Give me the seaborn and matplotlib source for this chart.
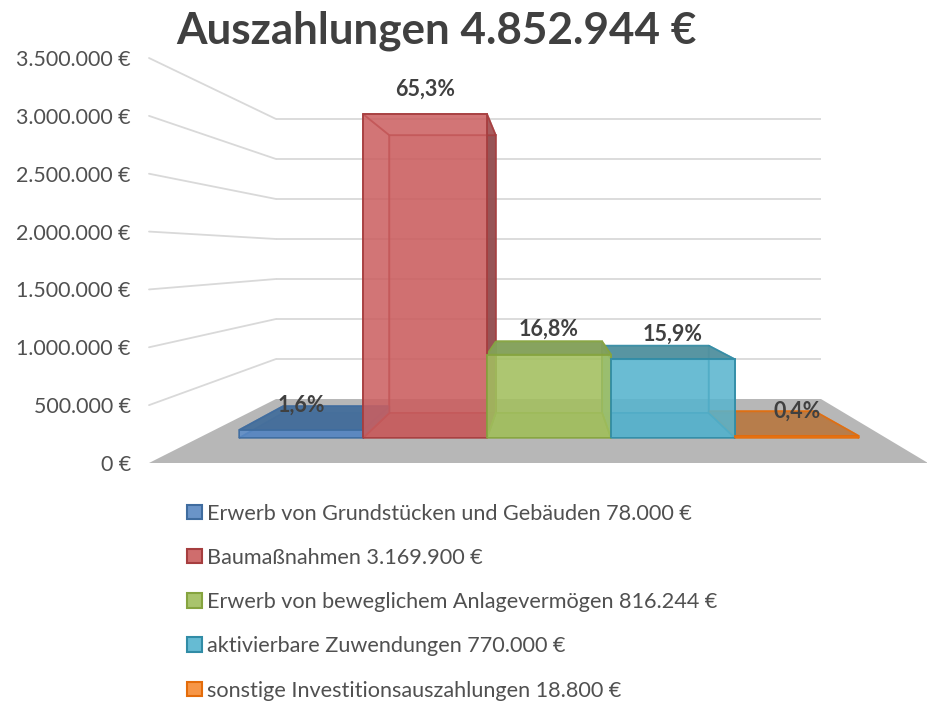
import matplotlib
matplotlib.use("Agg")
import matplotlib.pyplot as plt
import numpy as np
import pandas as pd
import seaborn as sns
from matplotlib.colors import to_rgba
from matplotlib.patches import Polygon
from matplotlib.ticker import FuncFormatter

# Daten
categories = ["Erwerb von Grundstücken und Gebäuden", "Baumaßnahmen",
              "Erwerb von beweglichem Anlagevermögen", "aktivierbare Zuwendungen",
              "sonstige Investitionsauszahlungen"]
values = [78000, 3169900, 816244, 770000, 18800]
shares = ["1,6%", "65,3%", "16,8%", "15,9%", "0,4%"]
axis_ticks = [0, 500000, 1000000, 1500000, 2000000, 2500000, 3000000, 3500000]
title = "Auszahlungen 4.852.944 €"

fills = ["#5b8bc8", "#cb5f60", "#a3c060", "#58b4ce", "#f79646"]
legend_fills = ["#6a94c8", "#cf6d6d", "#a9c46c", "#66bbd3", "#f79646"]
edges = ["#3f6c9f", "#a63e3f", "#86a43f", "#318ca6", "#e46c0a"]
tops = ["#466f9b", "#cb5f60", "#83a05a", "#53919f", "#b87d4a"]
bottoms = ["#466f9b", "#b05252", "#9ab45c", "#4fa5bd", "#b87d4a"]
sides = ["#46709c", "#8e4a4c", "#8fae5c", "#62b4cb", "#62b4cb"]
TEXT = "#404040"
GRID = "#d9d9d9"
FLOOR = "#b7b7b7"
W, H = 928, 704


def euro(v):
    return f"{v:,.0f}".replace(",", ".") + " €"


def place(left, right, base, top, zorder):
    """Achse in Pixelkoordinaten des Bildes platzieren"""
    ax = fig.add_axes([left / W, 1 - base / H, (right - left) / W, (base - top) / H])
    ax.set_zorder(zorder)
    ax.patch.set_alpha(0)
    return ax


def to_px(ax, x, y):
    px, py = ax.transData.transform((x, y))
    return px, H - py


def real_bars(ax):
    # seaborn legt je Farbe auch leere Balken an
    return sorted([p for p in ax.patches if p.get_height() > 0], key=lambda p: p.get_x())


sns.set_theme(style="white")
plt.rcParams["font.family"] = ["Lato", "DejaVu Sans"]

df = pd.DataFrame({"cat": categories, "value": values,
                   "label": [f"{c} {euro(v)}" for c, v in zip(categories, values)]})
palette = dict(zip(df["label"], fills))

fig = plt.figure(figsize=(W / 100, H / 100), dpi=100, facecolor="white")

# Wände und Boden
wall_front = place(149, 928, 463, 58, 0)
wall_front.set_ylim(0, 3500000)
wall_front.set_xlim(0, 1)
wall_front.set_yticks(axis_ticks)
wall_front.set_xticks([])
wall_front.yaxis.set_major_formatter(FuncFormatter(lambda v, _: euro(v)))
wall_front.tick_params(axis="y", length=0, pad=13, labelsize=15.4, labelcolor="#505050")
sns.despine(ax=wall_front, left=True, bottom=True)

wall_back = place(276, 821, 399, 119, 0)
wall_back.set_ylim(0, 3500000)
wall_back.set_xlim(0, 1)
wall_back.set_axis_off()
wall_back.hlines(axis_ticks[1:], 0, 1, color=GRID, lw=1.3, clip_on=False)

ground = place(0, W, H, 0, 0)
ground.set_xlim(0, W)
ground.set_ylim(H, 0)
ground.set_axis_off()
ground.add_patch(Polygon([to_px(wall_front, 0, 0), to_px(wall_front, 1, 0),
                          to_px(wall_back, 1, 0), to_px(wall_back, 0, 0)], fc=FLOOR, ec="none"))
for t in axis_ticks[1:]:
    a, b = to_px(wall_front, 0, t), to_px(wall_back, 0, t)
    ground.plot([a[0], b[0]], [a[1], b[1]], color=GRID, lw=1.3, solid_capstyle="round")

# Rückseite der Säulen
ax_back = place(283, 815, 413, 106.4, 1)
sns.barplot(data=df, x="cat", y="value", hue="label", palette=palette, width=1, dodge=False,
            saturation=1, legend=False, ax=ax_back)
ax_back.set_ylim(0, 3500000)
ax_back.set_axis_off()

# Vorderseite der Säulen
ax_front = place(239, 859, 438, 80.3, 3)
sns.barplot(data=df, x="cat", y="value", hue="label", palette=palette, width=1, dodge=False,
            saturation=1, legend=True, ax=ax_front)
ax_front.set_ylim(0, 3500000)
ax_front.set_axis_off()

for ax, alpha in ((ax_back, 0.45), (ax_front, 0.8)):
    for i, bar in enumerate(real_bars(ax)):
        bar.set_facecolor(to_rgba(fills[i], alpha))
        bar.set_edgecolor(to_rgba(edges[i], 0.9 if alpha > 0.5 else 0.6))
        bar.set_linewidth(1.4)

# Seitenflächen zwischen Vorder- und Rückseite
faces = place(0, W, H, 0, 2)
faces.set_xlim(0, W)
faces.set_ylim(H, 0)
faces.set_axis_off()

front_bars = real_bars(ax_front)
back_bars = real_bars(ax_back)
for i in [0, 4, 1, 3, 2]:
    fb, bb = front_bars[i], back_bars[i]
    fl, fr = fb.get_x(), fb.get_x() + fb.get_width()
    bl, br = bb.get_x(), bb.get_x() + bb.get_width()
    v = values[i]
    f_bl, f_br = to_px(ax_front, fl, 0), to_px(ax_front, fr, 0)
    f_tl, f_tr = to_px(ax_front, fl, v), to_px(ax_front, fr, v)
    b_bl, b_br = to_px(ax_back, bl, 0), to_px(ax_back, br, 0)
    b_tl, b_tr = to_px(ax_back, bl, v), to_px(ax_back, br, v)
    edge = to_rgba(edges[i], 0.8)
    # Boden der Säule
    faces.add_patch(Polygon([f_bl, f_br, b_br, b_bl], fc=to_rgba(bottoms[i], 0.75), ec=edge, lw=1.2))
    # sichtbare Seite
    if b_tr[0] > f_tr[0]:
        faces.add_patch(Polygon([f_br, f_tr, b_tr, b_br], fc=to_rgba(sides[i], 0.9), ec=edge, lw=1.2))
    if b_tl[0] > f_tl[0]:
        faces.add_patch(Polygon([f_bl, f_tl, b_tl, b_bl], fc=to_rgba(fills[i], 0.3), ec=edge, lw=1.2))
    if b_tr[0] < f_tr[0]:
        faces.add_patch(Polygon([f_br, f_tr, b_tr, b_br], fc=to_rgba(fills[i], 0.3), ec=edge, lw=1.2))
    if b_tl[0] < f_tl[0]:
        faces.add_patch(Polygon([f_bl, f_tl, b_tl, b_bl], fc=to_rgba(sides[i], 0.9), ec=edge, lw=1.2))
    # Deckel, von oben nur sichtbar wenn die Hinterkante höher liegt
    seen_from_top = b_tl[1] < f_tl[1]
    faces.add_patch(Polygon([f_tl, f_tr, b_tr, b_tl],
                            fc=to_rgba(tops[i], 0.95 if seen_from_top else 0.3), ec=edge, lw=1.2))

# Prozentwerte
for i, v in enumerate(values):
    ax_front.annotate(shares[i], (i, v), xytext=(0, 25), textcoords="offset pixels", ha="center",
                      va="center", fontsize=15.5, fontweight="bold", color=TEXT, annotation_clip=False)

# Legende
sns.move_legend(ax_front, "upper left", bbox_to_anchor=(168 / W, 1 - 484 / H),
                bbox_transform=fig.transFigure, frameon=False, title=None, ncol=1,
                fontsize=15.6, labelspacing=1.12, handlelength=0.65, handleheight=0.65,
                handletextpad=0.26, labelcolor="#505050")
for i, patch in enumerate(ax_front.get_legend().get_patches()):
    patch.set_facecolor(legend_fills[i])
    patch.set_edgecolor(edges[i])
    patch.set_linewidth(1.5)
    patch.set_alpha(1)

fig.text(436 / W, 1 - 31 / H, title, ha="center", va="center", fontsize=31.7, fontweight="bold", color=TEXT)

fig.savefig("out.png", dpi=100)
